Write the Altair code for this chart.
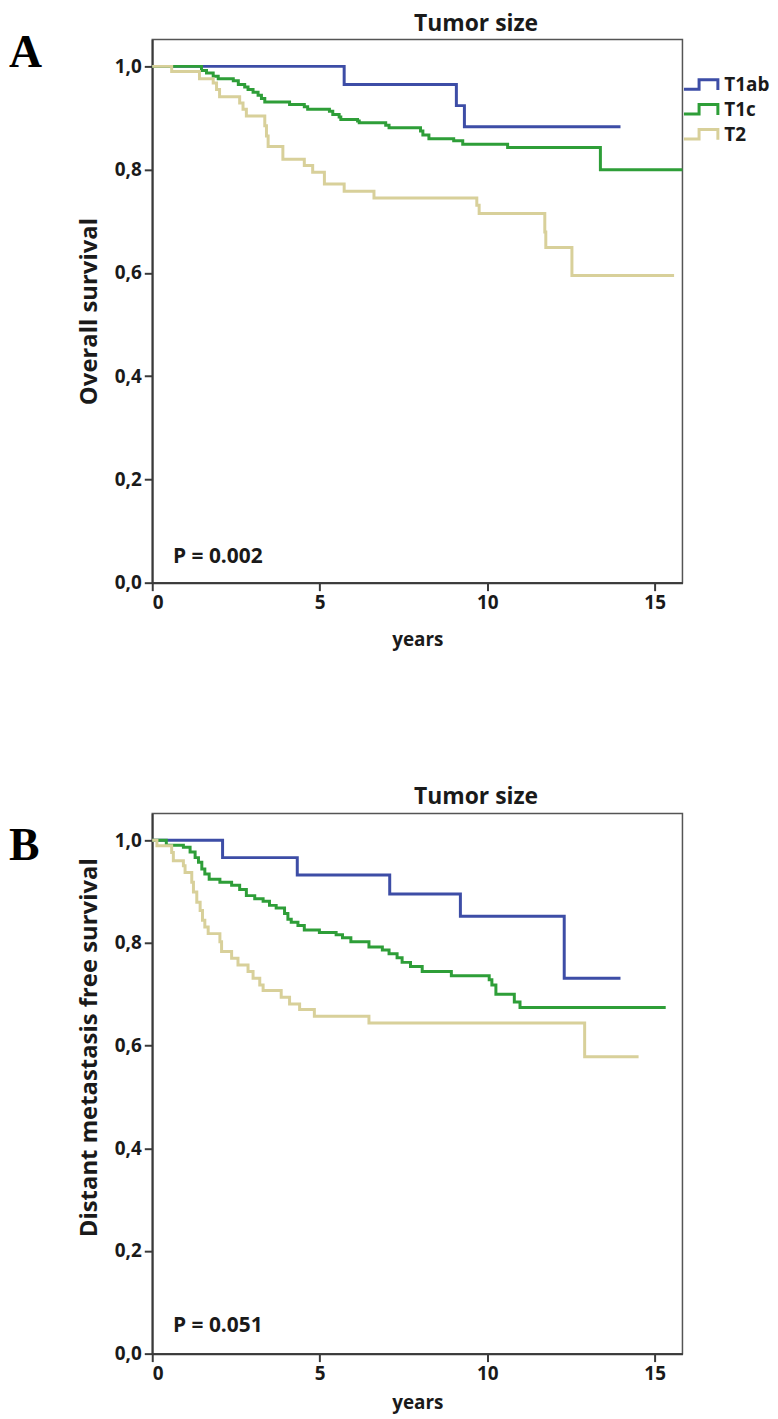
import altair as alt
import pandas as pd

groups = ["T1ab", "T1c", "T2"]
colors = ["#3D4DA6", "#2E9E38", "#D8D09A"]

# ---- Panel A: overall survival (time in years, survival proportion)
a_t1ab_t = [0, 5.73, 9.08, 9.32, 13.98]
a_t1ab_s = [1.0, 0.965, 0.924, 0.883, 0.883]

a_t1c_t = [0, 1.47, 1.62, 1.82, 1.97, 2.42, 2.57, 2.76, 2.86, 3.01, 3.16, 3.26, 3.36,
           4.10, 4.54, 4.64, 5.29, 5.39, 5.58, 5.63, 6.13, 6.18, 6.97, 7.07,
           8.01, 8.08, 8.26, 9.00, 9.27, 10.61, 13.38, 15.83]
a_t1c_s = [1.0, 0.992, 0.987, 0.981, 0.976, 0.972, 0.965, 0.960, 0.955, 0.950, 0.944, 0.938, 0.931,
           0.926, 0.922, 0.917, 0.913, 0.907, 0.902, 0.897, 0.894, 0.891, 0.886, 0.881,
           0.875, 0.867, 0.860, 0.856, 0.849, 0.843, 0.800, 0.800]

a_t2_t = [0, 0.58, 1.41, 1.82, 1.92, 2.01, 2.61, 2.71, 2.81, 3.36, 3.41, 3.46, 3.90,
          4.54, 4.79, 5.14, 5.73, 6.62, 9.69, 9.76, 11.72, 11.75, 12.53, 15.58]
a_t2_s = [1.0, 0.990, 0.976, 0.968, 0.955, 0.941, 0.929, 0.917, 0.904, 0.885, 0.865, 0.845, 0.820,
          0.808, 0.795, 0.772, 0.758, 0.745, 0.731, 0.715, 0.679, 0.649, 0.595, 0.595]

# ---- Panel B: distant metastasis free survival
b_t1ab_t = [0, 2.10, 4.33, 7.09, 9.20, 12.30, 13.98]
b_t1ab_s = [1.0, 0.966, 0.932, 0.895, 0.852, 0.731, 0.731]

b_t1c_t = [0, 0.42, 0.93, 1.13, 1.28, 1.38, 1.48, 1.57, 1.70, 2.02, 2.37, 2.61, 2.81, 3.06,
           3.31, 3.50, 3.70, 3.95, 4.05, 4.15, 4.35, 4.54, 4.99, 5.49, 5.68, 5.93, 6.47,
           6.87, 7.07, 7.31, 7.46, 7.71, 8.06, 8.93, 10.06, 10.14, 10.26, 10.81, 10.98, 15.33]
b_t1c_s = [1.0, 0.990, 0.986, 0.977, 0.966, 0.957, 0.944, 0.934, 0.924, 0.918, 0.912, 0.904, 0.892, 0.886,
           0.881, 0.873, 0.868, 0.857, 0.846, 0.840, 0.834, 0.825, 0.820, 0.816, 0.810, 0.802, 0.792,
           0.786, 0.779, 0.771, 0.762, 0.754, 0.744, 0.736, 0.728, 0.718, 0.700, 0.685, 0.674, 0.674]

b_t2_t = [0, 0.14, 0.58, 0.63, 0.93, 0.98, 1.18, 1.23, 1.33, 1.43, 1.50, 1.57, 1.67, 2.02,
          2.07, 2.37, 2.56, 2.86, 3.01, 3.21, 3.31, 3.85, 4.10, 4.40, 4.84, 6.47, 12.91, 14.52]
b_t2_s = [1.0, 0.989, 0.976, 0.960, 0.950, 0.937, 0.918, 0.899, 0.879, 0.863, 0.844, 0.831, 0.818, 0.802,
          0.783, 0.770, 0.757, 0.744, 0.731, 0.718, 0.707, 0.694, 0.681, 0.670, 0.657, 0.644, 0.578, 0.578]

y_ticks = [0.0, 0.2, 0.4, 0.6, 0.8, 1.0]
x_ticks = [0, 5, 10, 15]
p_texts = ["P = 0.002", "P = 0.051"]
y_titles = ["Overall survival", "Distant metastasis free survival"]
letters = ["A", "B"]

FONT = "Open Sans"
X_MAX = 15.83
Y_MAX = 1.052
W = 533

# step-shaped legend glyph (drawn in units of sqrt(size)/2)
legend_path = "M-1,0.44L0.52,0.44L0.52,-0.51L2.41,-0.51L2.41,0.525"


def frame(series):
    rows = []
    for g, (ts, ss) in zip(groups, series):
        for i, (t, s) in enumerate(zip(ts, ss)):
            rows.append({"time": t, "surv": s, "group": g, "idx": i})
    return pd.DataFrame(rows)


def panel(series, ytitle, ptext, p_y, letter, letter_y, height, title_y, xtitle_pad,
          title_offset):
    df = frame(series)
    x = alt.X("time:Q", title="years",
              scale=alt.Scale(domain=[0, X_MAX], nice=False, zero=False),
              axis=alt.Axis(values=x_ticks, format="d", titlePadding=xtitle_pad))
    y = alt.Y("surv:Q", title=ytitle,
              scale=alt.Scale(domain=[0, Y_MAX], nice=False),
              axis=alt.Axis(values=y_ticks,
                            labelExpr="replace(format(datum.value, '.1f'), '.', ',')",
                            titlePadding=13, titleY=title_y, titleFontSize=24))
    color = alt.Color("group:N", scale=alt.Scale(domain=groups, range=colors),
                      legend=alt.Legend(title=None, orient="none", legendX=533, legendY=34,
                                        symbolType=legend_path, symbolSize=400,
                                        symbolStrokeWidth=3, symbolFillColor="transparent",
                                        labelFont=FONT, labelFontSize=19, labelFontWeight="bold",
                                        labelColor="#1a1a1a", labelOffset=19, rowPadding=2,
                                        padding=0))
    lines = alt.Chart(df).mark_line(interpolate="step-after", strokeWidth=3).encode(
        x=x, y=y, color=color, order="idx:Q")

    ptxt = alt.Chart(pd.DataFrame({"time": [0.62], "surv": [p_y], "label": [ptext]})).mark_text(
        align="left", baseline="alphabetic", font=FONT, fontSize=21, fontWeight="bold",
        color="#1a1a1a").encode(x="time:Q", y="surv:Q", text="label:N")

    let = alt.Chart(pd.DataFrame({"label": [letter]})).mark_text(
        align="left", baseline="alphabetic", font="Liberation Serif", fontSize=46,
        fontWeight="bold", color="#000").encode(
        x=alt.value(-144), y=alt.value(letter_y), text="label:N")

    return alt.layer(lines, ptxt, let).properties(
        width=W, height=height,
        title=alt.Title("Tumor size", font=FONT, fontSize=23, fontWeight="bold",
                        color="#1a1a1a", dx=59, offset=title_offset))


series_a = [(a_t1ab_t, a_t1ab_s), (a_t1c_t, a_t1c_s), (a_t2_t, a_t2_s)]
series_b = [(b_t1ab_t, b_t1ab_s), (b_t1c_t, b_t1c_s), (b_t2_t, b_t2_s)]

chart = alt.vconcat(
    panel(series_a, y_titles[0], p_texts[0], 0.038, letters[0], 28, 546, 273, 18, -5.5),
    panel(series_b, y_titles[1], p_texts[1], 0.042, letters[1], 47, 543, 235, 10, 4.5),
    spacing=135,
).configure(
    padding={"left": 0, "top": 0, "right": 0, "bottom": 0},
    font=FONT,
).configure_view(
    stroke="#555555", strokeWidth=1.5
).configure_axis(
    grid=False, domainColor="#3a3a3a", domainWidth=2, tickColor="#3a3a3a",
    tickWidth=2, tickSize=8, labelFont=FONT, labelFontSize=19, labelFontWeight="bold",
    labelColor="#1a1a1a", titleFont=FONT, titleFontSize=19, titleFontWeight="bold",
    titleColor="#1a1a1a", labelPadding=3
)

chart.save("out.html", embed_options={"renderer": "svg", "actions": False})
